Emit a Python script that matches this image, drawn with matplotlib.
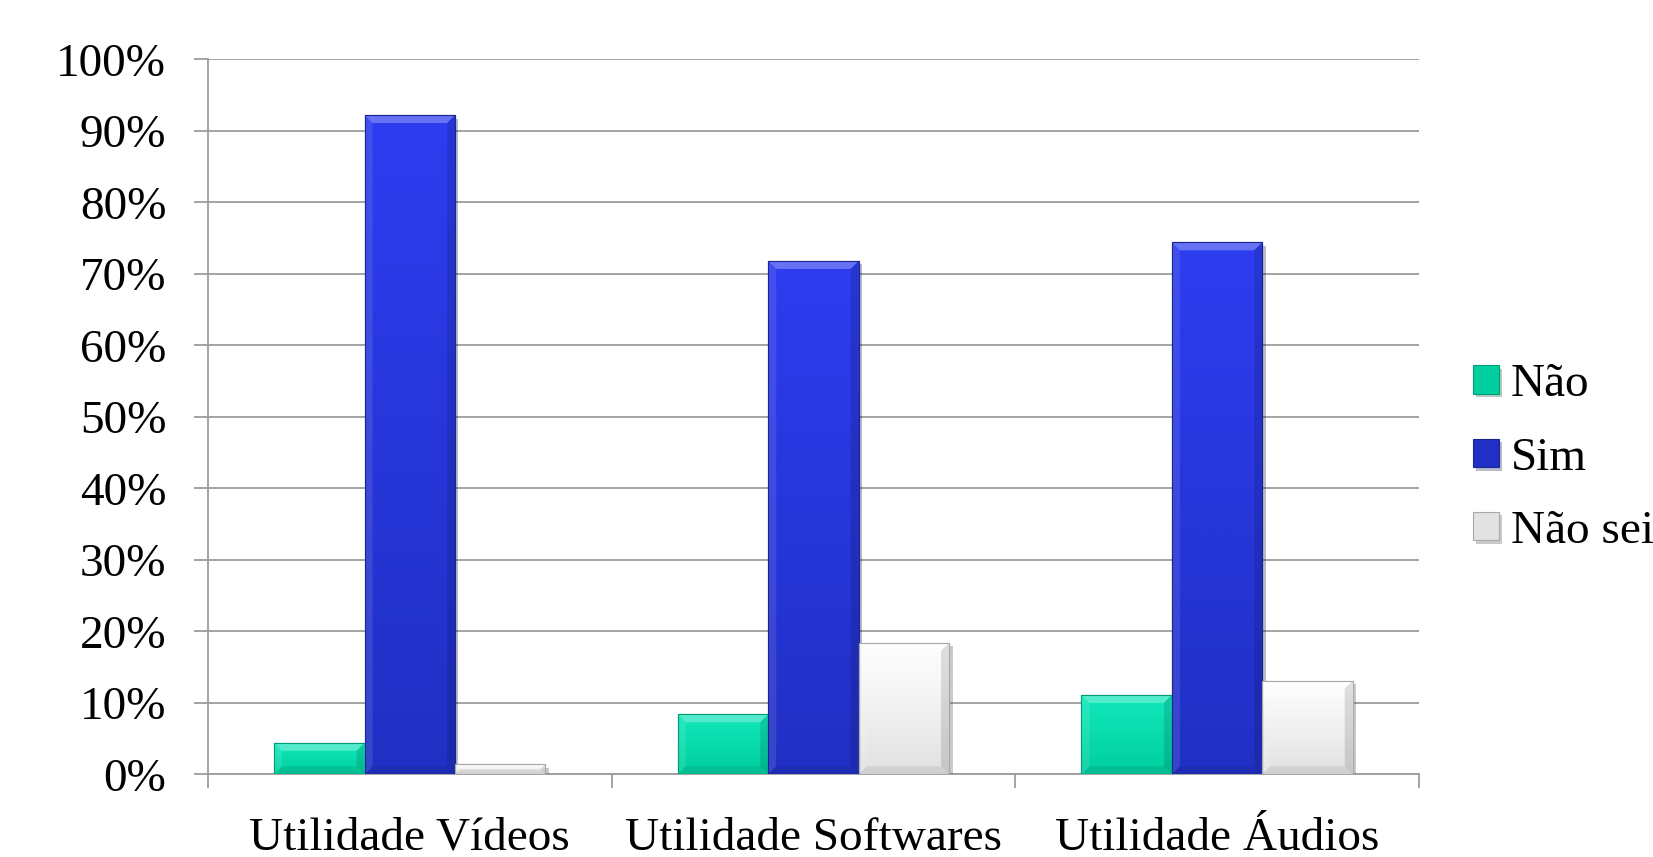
import matplotlib
matplotlib.use("Agg")
import matplotlib.pyplot as plt
import numpy as np
from matplotlib.colors import LinearSegmentedColormap
from matplotlib.patches import Polygon
import matplotlib.patheffects as pe

# --- data -------------------------------------------------------------
categorias = ["Utilidade Vídeos", "Utilidade Softwares", "Utilidade Áudios"]
series_nomes = ["Não", "Sim", "Não sei"]
nao = [4.4, 8.4, 11.1]
sim = [92.2, 71.8, 74.4]
nao_sei = [1.4, 18.4, 13.1]
y_ticks = [0, 10, 20, 30, 40, 50, 60, 70, 80, 90, 100]
y_tick_labels = ["0%", "10%", "20%", "30%", "40%", "50%", "60%", "70%", "80%", "90%", "100%"]

# --- style --------------------------------------------------------------
plt.rcParams["font.family"] = ["Liberation Serif", "DejaVu Serif"]
FS = 34
GRID = "#9c9c9c"

# (top colour, bottom colour, edge colour)
estilos = [
    ("#12e8bc", "#00cf9f", "#009c78"),
    ("#2d3df0", "#2130c4", "#1a2590"),
    ("#ffffff", "#e2e2e2", "#a8a8a8"),
]

fig = plt.figure(figsize=(16.53, 8.57), dpi=100)
ax = fig.add_axes([0.1258, 0.0965, 0.7326, 0.8343])

x = np.arange(len(categorias))
largura = 0.224
valores = [nao, sim, nao_sei]
offsets = [-largura, 0.0, largura]

ax.set_xlim(-0.5, len(categorias) - 0.5)
ax.set_ylim(0, 100)

containers = []
for serie, off, (c_top, c_bot, c_edge), nome in zip(valores, offsets, estilos, series_nomes):
    bars = ax.bar(x + off, serie, width=largura, color=c_bot, edgecolor=c_edge,
                  linewidth=0.8, zorder=3, label=nome)
    for b in bars:
        b.set_path_effects([pe.SimplePatchShadow(offset=(2.5, -2.5), alpha=0.28),
                            pe.Normal()])
    containers.append(bars)

# gradient fill + bevel on each bar
ext = ax.get_window_extent()
dx_px = (ax.get_xlim()[1] - ax.get_xlim()[0]) / ext.width
dy_px = (ax.get_ylim()[1] - ax.get_ylim()[0]) / ext.height
bevel = 8
for bars, (c_top, c_bot, c_edge) in zip(containers, estilos):
    cmap = LinearSegmentedColormap.from_list("g", [c_bot, c_top])
    for b in bars:
        x0, w, h = b.get_x(), b.get_width(), b.get_height()
        grad = np.linspace(0, 1, 64).reshape(-1, 1)
        im = ax.imshow(grad, extent=[x0, x0 + w, 0, h], origin="lower",
                       cmap=cmap, aspect="auto", zorder=3.1, interpolation="bicubic")
        im.set_clip_path(b)
        by = min(bevel * dy_px, h / 2)
        bx = by / dy_px * dx_px
        top = Polygon([(x0, h), (x0 + w, h), (x0 + w - bx, h - by), (x0 + bx, h - by)],
                      closed=True, facecolor="white", alpha=0.28, lw=0, zorder=3.2)
        left = Polygon([(x0, 0), (x0, h), (x0 + bx, h - by), (x0 + bx, by)],
                       closed=True, facecolor="white", alpha=0.10, lw=0, zorder=3.2)
        right = Polygon([(x0 + w, 0), (x0 + w, h), (x0 + w - bx, h - by), (x0 + w - bx, by)],
                        closed=True, facecolor="black", alpha=0.12, lw=0, zorder=3.2)
        bottom = Polygon([(x0, 0), (x0 + w, 0), (x0 + w - bx, by), (x0 + bx, by)],
                         closed=True, facecolor="black", alpha=0.08, lw=0, zorder=3.2)
        for p in (top, left, right, bottom):
            ax.add_patch(p)
        # outline on top of the overlays
        ax.add_patch(plt.Rectangle((x0, 0), w, h, fill=False, edgecolor=c_edge,
                                   lw=0.8, zorder=3.3))

ax.set_xlim(-0.5, len(categorias) - 0.5)
ax.set_ylim(0, 100)

# grid and axes
ax.set_yticks(y_ticks)
ax.set_yticklabels(y_tick_labels, fontsize=FS)
ax.yaxis.grid(True, color=GRID, linewidth=1.3, zorder=0)
ax.set_axisbelow(True)

ax.set_xticks(x)
ax.set_xticklabels(categorias, fontsize=FS)
ax.set_xticks(np.arange(len(categorias) + 1) - 0.5, minor=True)
ax.tick_params(axis="x", which="major", length=0, pad=31)
ax.tick_params(axis="x", which="minor", length=10, width=1.3, color=GRID, direction="out")
ax.tick_params(axis="y", which="major", length=10, width=1.3, color=GRID,
               direction="out", pad=20)

for s in ("top", "right"):
    ax.spines[s].set_visible(False)
for s in ("left", "bottom"):
    ax.spines[s].set_color(GRID)
    ax.spines[s].set_linewidth(1.3)

# legend
handles = [c[0] for c in containers]
leg = fig.legend(handles, series_nomes, loc="center left",
                 bbox_to_anchor=(0.891, 0.4652), frameon=False, fontsize=FS,
                 handlelength=0.55, handleheight=0.55, handletextpad=0.25,
                 labelspacing=0.65, borderpad=0, borderaxespad=0)

fig.savefig("out.png", dpi=100, facecolor="white")
